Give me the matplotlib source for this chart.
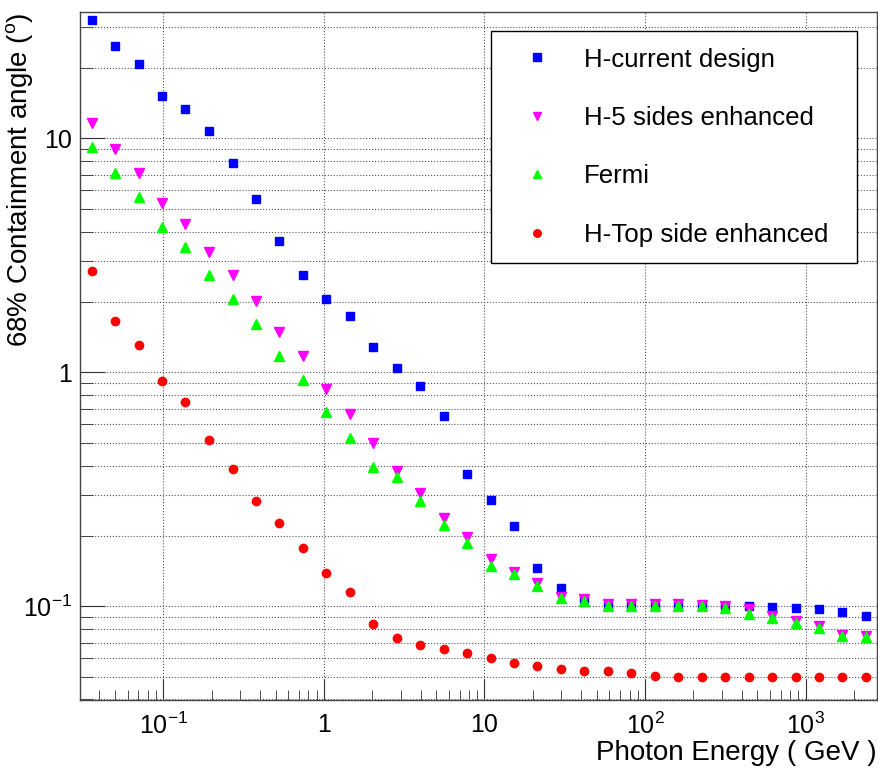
import matplotlib
matplotlib.use("Agg")
import matplotlib.pyplot as plt
from matplotlib.ticker import LogLocator, NullFormatter, FixedLocator, FixedFormatter

plt.rcParams['font.family'] = ['Liberation Sans', 'DejaVu Sans']
plt.rcParams['mathtext.fontset'] = 'custom'
plt.rcParams['mathtext.rm'] = 'Liberation Sans'
plt.rcParams['mathtext.it'] = 'Liberation Sans'

# photon energy (GeV), log-spaced bins
energy = [0.0358, 0.0501, 0.0702, 0.0982, 0.1374, 0.1923, 0.2698, 0.3776,
          0.5284, 0.7396, 1.035, 1.449, 2.028, 2.838, 3.972, 5.568, 7.798,
          10.91, 15.28, 21.38, 29.92, 41.88, 58.61, 82.04, 114.8, 161.1,
          225.4, 315.5, 441.6, 618.1, 865.0, 1211, 1694, 2371]

# 68% containment angle (deg)
h_current = [32.0, 24.9, 20.9, 15.2, 13.3, 10.8, 7.82, 5.52, 3.63, 2.61,
             2.06, 1.74, 1.286, 1.046, 0.877, 0.652, 0.3675, 0.2846, 0.2198,
             0.1454, 0.1197, 0.1074, 0.1006, 0.1008, 0.1006, 0.1006, 0.1003,
             0.1000, 0.1003, 0.0993, 0.0986, 0.0970, 0.0947, 0.0913]
h_5sides = [11.66, 9.0, 7.13, 5.31, 4.32, 3.26, 2.60, 2.02, 1.486, 1.178,
            0.848, 0.664, 0.497, 0.3786, 0.304, 0.2377, 0.1983, 0.1592,
            0.1396, 0.1253, 0.1099, 0.1074, 0.1023, 0.1023, 0.1023, 0.1023,
            0.1016, 0.1003, 0.0973, 0.0910, 0.0862, 0.0823, 0.0756, 0.0749]
fermi = [9.18, 7.11, 5.61, 4.17, 3.42, 2.61, 2.06, 1.614, 1.17, 0.930,
         0.674, 0.522, 0.394, 0.356, 0.283, 0.2225, 0.1864, 0.1486, 0.1377,
         0.1225, 0.1085, 0.1050, 0.1006, 0.1006, 0.1006, 0.1006, 0.1000,
         0.0984, 0.0930, 0.0889, 0.0849, 0.0810, 0.0746, 0.0739]
h_top = [2.70, 1.652, 1.304, 0.920, 0.746, 0.512, 0.385, 0.281, 0.2277,
         0.1775, 0.1383, 0.1148, 0.0838, 0.0730, 0.0683, 0.0655, 0.0631,
         0.0601, 0.0572, 0.0555, 0.0541, 0.0532, 0.0527, 0.0517, 0.0506,
         0.0501, 0.0501, 0.0501, 0.0501, 0.0501, 0.0501, 0.0501, 0.0501, 0.0501]

labels = ["H-current design", "H-5 sides enhanced", "Fermi", "H-Top side enhanced"]

fig = plt.figure(figsize=(8.79, 7.68), dpi=100)
ax = fig.add_axes([80 / 879, 68 / 768, 797 / 879, 688 / 768])

ax.plot(energy, h_current, ls='none', marker='s', ms=6, color='#0000ff', label=labels[0])
ax.plot(energy, h_5sides, ls='none', marker='v', ms=6.5, color='#ff00ff', label=labels[1])
ax.plot(energy, fermi, ls='none', marker='^', ms=6.5, color='#00ff00', label=labels[2])
ax.plot(energy, h_top, ls='none', marker='o', ms=6, color='#ff0000', label=labels[3])

ax.set_xscale('log')
ax.set_yscale('log')
ax.set_xlim(0.0303, 2780)
ax.set_ylim(0.0398, 34.7)

ax.xaxis.set_major_locator(FixedLocator([0.1, 1, 10, 100, 1000]))
ax.xaxis.set_major_formatter(FixedFormatter([r'$10^{-1}$', '1', '10', r'$10^{2}$', r'$10^{3}$']))
ax.yaxis.set_major_locator(FixedLocator([0.1, 1, 10]))
ax.yaxis.set_major_formatter(FixedFormatter([r'$10^{-1}$', '1', '10']))
ax.xaxis.set_minor_locator(LogLocator(base=10, subs=range(2, 10), numticks=20))
ax.yaxis.set_minor_locator(LogLocator(base=10, subs=range(2, 10), numticks=20))
ax.xaxis.set_minor_formatter(NullFormatter())
ax.yaxis.set_minor_formatter(NullFormatter())

ax.tick_params(axis='x', which='major', direction='in', length=15, pad=9, labelsize=18, color='#333333')
ax.tick_params(axis='x', which='minor', direction='in', length=7.5, color='#333333')
ax.tick_params(axis='y', which='major', direction='in', length=18, pad=6, labelsize=18, color='#333333')
ax.tick_params(axis='y', which='minor', direction='in', length=9, color='#333333')
ax.tick_params(top=False, right=False, which='both')

ax.grid(which='major', axis='both', ls=':', color='#555555', lw=0.8)
ax.grid(which='minor', axis='y', ls=':', color='#555555', lw=0.8)
ax.set_axisbelow(True)

for s in ax.spines.values():
    s.set_color('#444444')
    s.set_linewidth(1.0)

ax.set_xlabel('Photon Energy ( GeV )', fontsize=20, loc='right')
ax.xaxis.set_label_coords(1.0, -0.0575)
ax.set_ylabel(r'68% Containment angle ($^{o}$)', fontsize=20, loc='top')
ax.yaxis.set_label_coords(-0.056, 1.0)

# legend box: left 490 px, top 31 px, width 367 px (expand keeps the left padding)
leg = ax.legend(loc='upper left', bbox_to_anchor=(0.5153, 0.5, 0.46, 0.4728),
                mode='expand', fontsize=18.6,
                frameon=True, fancybox=False, edgecolor='black', framealpha=1,
                borderpad=0.65, labelspacing=1.33, handlelength=2.3,
                handletextpad=0.65, borderaxespad=0, markerscale=0.9)
leg.get_frame().set_linewidth(1.0)

fig.savefig('out.png', dpi=100)
